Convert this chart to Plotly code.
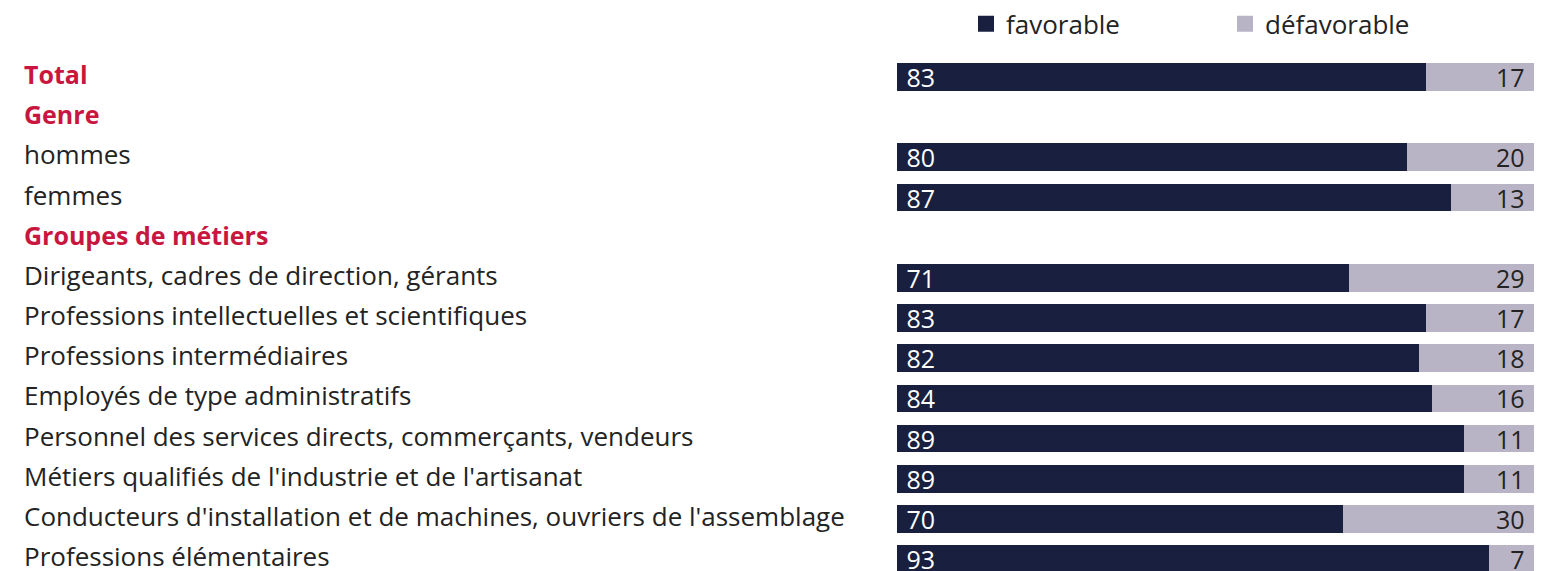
import plotly.graph_objects as go

# Row labels, top to bottom; header rows carry no values
rows = [
    "Total",
    "Genre",
    "hommes",
    "femmes",
    "Groupes de métiers",
    "Dirigeants, cadres de direction, gérants",
    "Professions intellectuelles et scientifiques",
    "Professions intermédiaires",
    "Employés de type administratifs",
    "Personnel des services directs, commerçants, vendeurs",
    "Métiers qualifiés de l'industrie et de l'artisanat",
    "Conducteurs d'installation et de machines, ouvriers de l'assemblage",
    "Professions élémentaires",
]
headers = ["Total", "Genre", "Groupes de métiers"]
favorable = [83, None, 80, 87, None, 71, 83, 82, 84, 89, 89, 70, 93]
defavorable = [17, None, 20, 13, None, 29, 17, 18, 16, 11, 11, 30, 7]

NAVY = "#19203f"
LILAC = "#b8b4c6"
RED = "#c8163e"
INK = "#232323"
FONT = "Open Sans"
NBSP = "\u00a0"

W, H = 1545, 571
fig = go.Figure()

fig.add_bar(
    y=rows, x=favorable, orientation="h", name="favorable",
    marker=dict(color=NAVY, line=dict(width=0)),
    text=[("" if v is None else NBSP + str(v)) for v in favorable],
    textposition="inside", insidetextanchor="start", textangle=0,
    textfont=dict(color="white", size=25, family=FONT),
    constraintext="none", showlegend=False, width=0.69,
)
fig.add_bar(
    y=rows, x=defavorable, orientation="h", name="défavorable",
    marker=dict(color=LILAC, line=dict(width=0)),
    text=[("" if v is None else str(v) + NBSP) for v in defavorable],
    textposition="inside", insidetextanchor="end", textangle=0,
    textfont=dict(color=INK, size=25, family=FONT),
    constraintext="none", showlegend=False, width=0.69,
)

# Legend entries with larger square swatches
for name, col in [("favorable", NAVY), ("défavorable", LILAC)]:
    fig.add_scatter(
        x=[None], y=[None], mode="markers", name=name,
        marker=dict(symbol="square", size=18, color=col),
        showlegend=True,
    )

# Row labels drawn at the left edge of the page
for r in rows:
    is_head = r in headers
    fig.add_annotation(
        x=22 / W, xref="paper", y=r, yref="y", yshift=3,
        text=(f"<b>{r}</b>" if is_head else r),
        showarrow=False, xanchor="left", yanchor="middle",
        font=dict(size=25 if is_head else 26, color=RED if is_head else INK,
                  family=FONT),
    )

step = 40.46
top_px = 73.5
n = len(rows)
y_top = -top_px / step
y_bot = (n - 1) + (H - (top_px + (n - 1) * step)) / step

fig.update_layout(
    width=W, height=H,
    margin=dict(l=0, r=0, t=0, b=0),
    barmode="stack",
    plot_bgcolor="white", paper_bgcolor="white",
    font=dict(family=FONT, color=INK),
    xaxis=dict(domain=[897 / W, 1534 / W], range=[0, 100],
               visible=False, fixedrange=True),
    yaxis=dict(range=[y_bot, y_top], visible=False,
               categoryorder="array", categoryarray=rows),
    legend=dict(
        orientation="h", x=966 / W, y=1 - 20 / H, xanchor="left", yanchor="middle",
        font=dict(size=26, color=INK, family=FONT),
        entrywidth=214, entrywidthmode="pixels", traceorder="normal",
        itemsizing="trace", bgcolor="rgba(0,0,0,0)",
    ),
)

fig.write_html("out.html")
